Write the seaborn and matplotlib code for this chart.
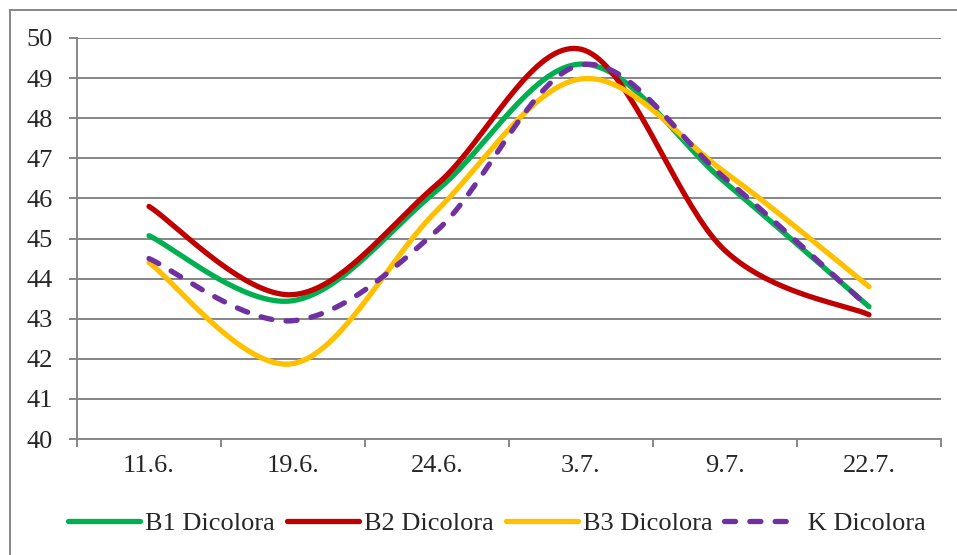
import numpy as np
import pandas as pd
import matplotlib
matplotlib.use("Agg")
import matplotlib.pyplot as plt
import seaborn as sns
from matplotlib.lines import Line2D
from matplotlib.patches import Rectangle

# Sampling dates and measured values per variant
dates = ["11.6.", "19.6.", "24.6.", "3.7.", "9.7.", "22.7."]
b1 = [45.07, 43.45, 46.2, 49.35, 46.4, 43.3]
b2 = [45.8, 43.6, 46.35, 49.72, 44.7, 43.1]
b3 = [44.4, 41.88, 45.7, 48.98, 46.65, 43.8]
k = [44.5, 42.95, 45.2, 49.33, 46.5, 43.28]
series_names = ["B1 Dicolora", "B2 Dicolora", "B3 Dicolora", " K Dicolora"]
colors = ["#00B050", "#C00000", "#FFC000", "#7030A0"]

sns.set_style("white")
plt.rcParams["font.family"] = ["Liberation Serif", "DejaVu Serif"]

GRAY = "#868686"
LW = 3.8
DASH = (2.1, 2.7)


def smooth(xs, ys, n=40):
    """Smoothed curve through the points using cubic Bezier segments."""
    pts = np.column_stack([xs, ys]).astype(float)
    ext = np.vstack([pts[0], pts, pts[-1]])
    t = np.linspace(0, 1, n)[:, None]
    out = []
    for i in range(len(pts) - 1):
        p0, p1, p2, p3 = ext[i], ext[i + 1], ext[i + 2], ext[i + 3]
        c1 = p1 + (p2 - p0) / 6
        c2 = p2 - (p3 - p1) / 6
        seg = ((1 - t) ** 3) * p1 + 3 * ((1 - t) ** 2) * t * c1 \
            + 3 * (1 - t) * (t ** 2) * c2 + (t ** 3) * p2
        out.append(seg if i == 0 else seg[1:])
    return np.vstack(out)


fig = plt.figure(figsize=(9.57, 5.55), dpi=100)
ax = fig.add_axes([77 / 957, 116 / 555, 864 / 957, 401 / 555])

xpos = np.arange(len(dates))
handles = []
for name, vals, col in zip(series_names, [b1, b2, b3, k], colors):
    curve = smooth(xpos, vals)
    df = pd.DataFrame({"x": curve[:, 0], "y": curve[:, 1]})
    sns.lineplot(data=df, x="x", y="y", sort=False, estimator=None,
                 color=col, linewidth=LW, ax=ax, legend=False)
    line = ax.lines[-1]
    line.set_solid_capstyle("round")
    h = Line2D([], [], color=col, linewidth=LW, solid_capstyle="round")
    if name.strip().startswith("K"):
        line.set_dashes(DASH)
        line.set_dash_capstyle("round")
        h.set_dashes(DASH)
        h.set_dash_capstyle("round")
    handles.append(h)

ax.set_xlim(-0.5, len(dates) - 0.5)
ax.set_ylim(40, 50)
ax.set_xlabel("")
ax.set_ylabel("")

# Horizontal gridlines
ax.set_yticks(range(40, 51))
ax.yaxis.grid(True, color=GRAY, linewidth=1.4)
ax.xaxis.grid(False)
ax.set_axisbelow(True)

ax.tick_params(axis="y", which="major", length=6, width=1.4, color=GRAY,
               pad=11.5, labelsize=19, direction="out", left=True)

# Category boundaries as tick marks, labels centred in each category
ax.set_xticks(np.arange(-0.5, len(dates), 1))
ax.set_xticklabels([])
ax.set_xticks(xpos, minor=True)
ax.set_xticklabels(dates, minor=True)
ax.tick_params(axis="x", which="major", length=6, width=1.4, color=GRAY,
               direction="out", bottom=True)
ax.tick_params(axis="x", which="minor", length=0, pad=11.5, labelsize=19)

for s in ["top", "right"]:
    ax.spines[s].set_visible(False)
for s in ["left", "bottom"]:
    ax.spines[s].set_color(GRAY)
    ax.spines[s].set_linewidth(1.4)

fig.legend(handles, series_names, loc="center",
           bbox_to_anchor=(497 / 957, 1 - 523 / 555), ncol=4, frameon=False,
           handlelength=2.73, handletextpad=0.19, columnspacing=0.45,
           fontsize=19)

# Chart-area frame
fig.add_artist(Rectangle((10 / 957, -0.1), 1.2, 1 - 10 / 555 + 0.1,
                         transform=fig.transFigure, fill=False,
                         edgecolor=GRAY, linewidth=1.4))

fig.savefig("out.png", dpi=100)
